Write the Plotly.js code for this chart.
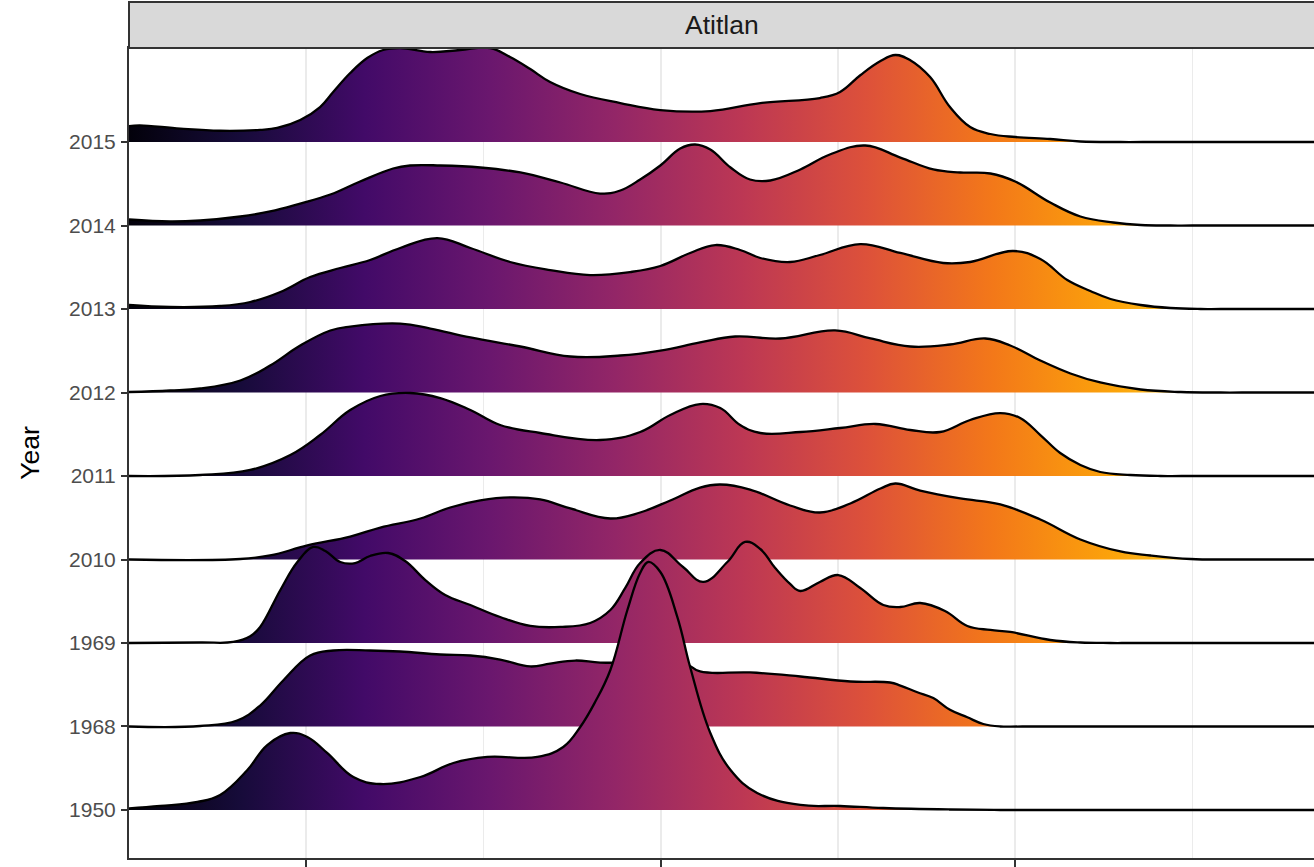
<!DOCTYPE html>
<html>
<head>
<meta charset="utf-8">
<script src="https://cdn.plot.ly/plotly-3.0.1.min.js"></script>
<style>
  html, body { margin: 0; padding: 0; background: #ffffff; }
  #chart { width: 1314px; height: 867px; }
</style>
</head>
<body>
<div id="chart"></div>
<script>
// ---- Data ----
const years = ['1950', '1968', '1969', '2010', '2011', '2012', '2013', '2014', '2015'];
const panelTitle = 'Atitlan';
const yTitle = 'Year';

// density ridges: x positions and scaled density heights (in units of row spacing)
const x2015 = [5.00, 5.30, 6.45, 7.57, 8.70, 9.18, 9.83, 10.39, 10.76, 11.24, 11.72, 12.17, 12.65, 13.50, 14.34, 15.19, 15.75, 16.32, 16.88, 17.73, 18.86, 19.99, 21.40, 22.81, 24.49, 25.06, 25.63, 26.20, 26.62, 27.04, 27.60, 28.16, 28.73, 29.30, 30.00, 30.99, 31.84, 32.97, 33.60, 40];
const d2015 = [0.19, 0.20, 0.16, 0.135, 0.145, 0.168, 0.263, 0.419, 0.599, 0.826, 1.006, 1.102, 1.126, 1.078, 1.102, 1.126, 1.018, 0.874, 0.719, 0.575, 0.467, 0.383, 0.371, 0.467, 0.527, 0.60, 0.80, 0.97, 1.042, 0.98, 0.778, 0.419, 0.180, 0.096, 0.060, 0.036, 0.006, 0, 0, 0];

const x2014 = [5.00, 6.16, 7.01, 8.14, 8.98, 9.83, 10.68, 11.52, 12.45, 12.93, 13.78, 14.91, 16.04, 17.17, 18.29, 18.86, 19.42, 19.99, 20.55, 20.97, 21.40, 21.97, 22.52, 23.09, 23.94, 24.77, 25.77, 26.76, 27.69, 28.45, 29.30, 30.00, 30.99, 31.84, 32.77, 33.54, 34.38, 35.00, 40];
const d2014 = [0.072, 0.048, 0.060, 0.108, 0.168, 0.263, 0.371, 0.527, 0.683, 0.719, 0.719, 0.695, 0.635, 0.515, 0.383, 0.419, 0.551, 0.719, 0.922, 0.970, 0.910, 0.695, 0.551, 0.539, 0.671, 0.850, 0.958, 0.814, 0.671, 0.635, 0.623, 0.527, 0.275, 0.108, 0.036, 0.006, 0, 0, 0];

const x2013 = [5.00, 6.16, 7.57, 8.42, 9.27, 10.11, 10.96, 11.80, 12.65, 13.70, 14.63, 15.75, 16.88, 18.01, 19.14, 19.99, 20.83, 21.54, 22.24, 22.81, 23.65, 24.49, 25.63, 26.76, 27.97, 28.73, 29.94, 30.71, 31.47, 32.12, 32.69, 33.54, 34.38, 35.23, 35.80, 40];
const d2013 = [0.048, 0.024, 0.036, 0.084, 0.204, 0.383, 0.491, 0.587, 0.731, 0.850, 0.731, 0.563, 0.467, 0.407, 0.443, 0.515, 0.671, 0.766, 0.707, 0.611, 0.563, 0.647, 0.778, 0.671, 0.551, 0.563, 0.695, 0.599, 0.347, 0.216, 0.120, 0.048, 0.012, 0, 0, 0];

const x2012 = [5.00, 6.16, 7.01, 8.14, 8.98, 9.83, 10.68, 11.24, 12.65, 13.50, 14.63, 16.04, 17.45, 18.86, 19.99, 21.11, 22.10, 23.37, 24.92, 25.92, 27.04, 28.16, 29.16, 29.86, 30.71, 31.56, 32.40, 33.54, 34.67, 35.80, 36.40, 40];
const d2012 = [0.006, 0.024, 0.048, 0.144, 0.323, 0.563, 0.743, 0.790, 0.826, 0.766, 0.659, 0.551, 0.431, 0.443, 0.503, 0.599, 0.671, 0.647, 0.743, 0.647, 0.551, 0.575, 0.647, 0.563, 0.383, 0.228, 0.120, 0.036, 0.006, 0, 0, 0];

const x2011 = [5.00, 7.01, 8.42, 9.55, 10.39, 11.24, 12.09, 12.93, 13.78, 14.63, 15.47, 16.60, 18.29, 19.42, 20.27, 21.11, 21.68, 22.24, 22.81, 23.94, 25.06, 26.06, 27.04, 27.88, 28.73, 29.58, 30.14, 30.71, 31.27, 31.84, 32.40, 33.25, 34.10, 34.70, 40];
const d2011 = [0, 0.012, 0.072, 0.251, 0.491, 0.790, 0.958, 0.994, 0.934, 0.790, 0.611, 0.515, 0.431, 0.527, 0.731, 0.862, 0.814, 0.611, 0.515, 0.527, 0.575, 0.623, 0.551, 0.527, 0.671, 0.754, 0.695, 0.491, 0.275, 0.132, 0.048, 0.012, 0, 0, 0];

const x2010 = [5.00, 8.14, 8.98, 10.03, 11.24, 12.09, 13.22, 14.06, 14.91, 15.75, 16.60, 17.45, 18.58, 19.42, 20.27, 21.11, 21.68, 22.52, 23.65, 24.49, 25.35, 26.20, 26.62, 27.32, 28.45, 29.58, 30.71, 31.84, 32.97, 33.82, 34.95, 36.08, 36.70, 40];
const d2010 = [0, 0.006, 0.048, 0.168, 0.275, 0.383, 0.491, 0.623, 0.707, 0.743, 0.719, 0.611, 0.491, 0.563, 0.707, 0.862, 0.898, 0.838, 0.647, 0.563, 0.671, 0.850, 0.910, 0.826, 0.731, 0.659, 0.479, 0.240, 0.096, 0.048, 0.006, 0, 0, 0];

const x1969 = [5.00, 7.01, 7.94, 8.42, 8.70, 9.27, 9.75, 10.20, 10.54, 10.96, 11.38, 11.80, 12.31, 12.79, 13.36, 13.92, 14.63, 15.47, 16.32, 17.17, 18.01, 18.58, 19.00, 19.42, 19.99, 20.63, 21.20, 21.88, 22.38, 22.81, 23.23, 23.65, 23.94, 24.49, 25.01, 25.63, 26.28, 26.76, 27.32, 28.02, 28.65, 29.30, 29.86, 30.99, 31.84, 32.69, 33.30, 40];
const d1969 = [0, 0.006, 0.012, 0.080, 0.192, 0.635, 0.970, 1.150, 1.102, 0.970, 0.958, 1.042, 1.078, 0.982, 0.754, 0.575, 0.455, 0.311, 0.204, 0.192, 0.240, 0.395, 0.659, 0.958, 1.114, 0.910, 0.731, 0.970, 1.210, 1.126, 0.898, 0.707, 0.623, 0.731, 0.814, 0.659, 0.455, 0.431, 0.479, 0.383, 0.204, 0.156, 0.132, 0.036, 0.006, 0, 0, 0];

const x1968 = [5.00, 7.01, 8.05, 8.70, 9.35, 10.11, 10.76, 11.80, 12.65, 13.78, 14.63, 15.47, 16.32, 16.88, 17.59, 18.29, 19.42, 20.63, 21.11, 22.52, 23.94, 25.35, 26.47, 26.76, 27.24, 27.69, 28.16, 28.65, 29.10, 29.58, 30.20, 40];
const d1968 = [0, 0.006, 0.072, 0.251, 0.551, 0.850, 0.910, 0.910, 0.898, 0.862, 0.850, 0.802, 0.719, 0.754, 0.790, 0.766, 0.766, 0.766, 0.659, 0.647, 0.599, 0.539, 0.527, 0.49, 0.41, 0.34, 0.20, 0.11, 0.03, 0, 0, 0];

const x1950 = [5.00, 5.88, 6.93, 7.57, 8.34, 8.90, 9.55, 10.03, 10.59, 11.33, 12.09, 13.22, 14.15, 15.11, 16.52, 17.25, 17.73, 18.15, 18.58, 19.06, 19.42, 19.65, 19.99, 20.47, 20.83, 21.40, 21.97, 22.72, 23.94, 25.06, 26.28, 28.16, 29.58, 30.20, 40];
const d1950 = [0.018, 0.048, 0.096, 0.180, 0.479, 0.778, 0.922, 0.874, 0.683, 0.395, 0.311, 0.395, 0.563, 0.635, 0.635, 0.754, 0.994, 1.293, 1.677, 2.395, 2.838, 2.970, 2.850, 2.311, 1.713, 0.922, 0.479, 0.204, 0.060, 0.048, 0.024, 0.006, 0, 0, 0];

// ridges ordered top to bottom (drawing order, lower ridges overlap upper ones)
const ridgeX = {'2015': x2015, '2014': x2014, '2013': x2013, '2012': x2012, '2011': x2011, '2010': x2010, '1969': x1969, '1968': x1968, '1950': x1950};
const ridgeD = {'2015': d2015, '2014': d2014, '2013': d2013, '2012': d2012, '2011': d2011, '2010': d2010, '1969': d1969, '1968': d1968, '1950': d1950};

// inferno palette
const inferno = [
  [0.0, '#000004'], [0.1, '#160b39'], [0.2, '#420a68'], [0.3, '#6a176e'],
  [0.4, '#932667'], [0.5, '#bc3754'], [0.6, '#dd513a'], [0.7, '#f37819'],
  [0.8, '#fca50a'], [0.9, '#f6d746'], [1.0, '#fcffa4']
];
const fillLimits = [4.55, 40.0];

const traces = [];
const drawOrder = years.slice().reverse();
drawOrder.forEach(function (yr) {
  const k = years.indexOf(yr);
  const xs = ridgeX[yr];
  const ds = ridgeD[yr];
  // baseline
  traces.push({
    type: 'scatter', mode: 'lines',
    x: [xs[0], xs[xs.length - 1]], y: [k, k],
    line: {width: 0, color: 'rgba(0,0,0,0)'},
    hoverinfo: 'skip', showlegend: false
  });
  // ridge
  traces.push({
    type: 'scatter', mode: 'lines',
    x: xs, y: ds.map(function (v) { return k + v; }),
    fill: 'tonexty',
    fillgradient: {type: 'horizontal', colorscale: inferno, start: fillLimits[0], stop: fillLimits[1]},
    line: {color: '#000000', width: 2.3, shape: 'spline', smoothing: 1.15},
    hoverinfo: 'skip', showlegend: false
  });
});

const font = 'Liberation Sans, Arial, Helvetica, sans-serif';
const layout = {
  width: 1314, height: 867,
  margin: {l: 129, r: 0, t: 48, b: 9, pad: 0},
  paper_bgcolor: '#ffffff', plot_bgcolor: '#ffffff',
  showlegend: false,
  font: {family: font},
  xaxis: {
    range: [5, 38.43], tickvals: [10, 20, 30], showticklabels: false,
    ticks: 'outside', ticklen: 9, tickwidth: 2, tickcolor: '#333333',
    showgrid: true, gridcolor: '#ebebeb', gridwidth: 2,
    minor: {tickvals: [15, 25, 35], showgrid: true, gridcolor: '#ebebeb', gridwidth: 1.2, ticks: ''},
    zeroline: false, showline: true, linecolor: '#333333', linewidth: 2, mirror: true,
    fixedrange: true
  },
  yaxis: {
    range: [-0.575, 9.126], tickvals: years.map(function (y, i) { return i; }), ticktext: years,
    ticks: 'outside', ticklen: 6, tickwidth: 2, tickcolor: '#333333',
    tickfont: {family: font, size: 21, color: '#4d4d4d'},
    ticklabelstandoff: 1,
    showgrid: false, zeroline: false, showline: true, linecolor: '#333333', linewidth: 2,
    title: {text: yTitle, font: {family: font, size: 26.5, color: '#000000'}, standoff: 22},
    fixedrange: true
  },
  shapes: [{
    type: 'rect', xref: 'paper', yref: 'paper',
    x0: 0, x1: 1.01, y0: 1, y1: 1 + 46 / 810,
    fillcolor: '#d9d9d9', line: {color: '#333333', width: 2}, layer: 'above'
  }],
  annotations: [{
    text: panelTitle, xref: 'paper', yref: 'paper', x: 0.5, y: 1 + 23 / 810,
    xanchor: 'center', yanchor: 'middle', showarrow: false,
    font: {family: font, size: 26.5, color: '#1a1a1a'}
  }]
};

Plotly.newPlot('chart', traces, layout, {displayModeBar: false, staticPlot: true});
</script>
</body>
</html>
